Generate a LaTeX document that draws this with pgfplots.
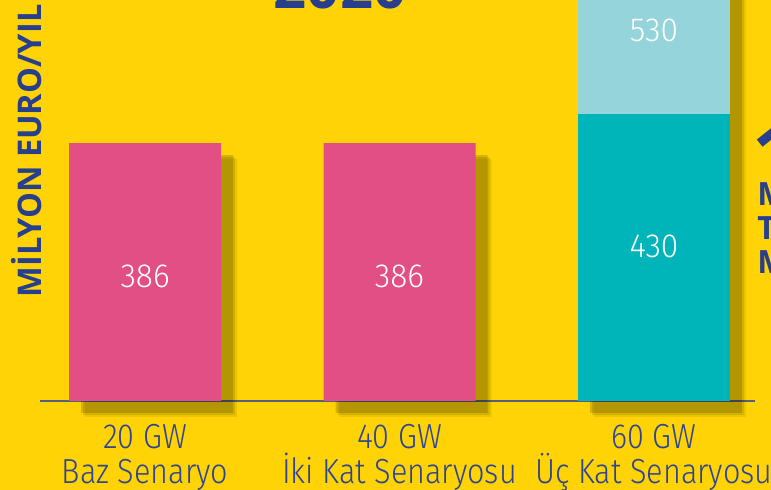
\documentclass[border=0pt]{standalone}
\usepackage{pgfplots}
\pgfplotsset{compat=1.18}
\usepackage{fontspec}
\setmainfont{Carlito}
\newfontfamily\lab[FakeStretch=0.88]{Fira Sans Light}
\newfontfamily\numf[FakeStretch=0.95]{Fira Sans Light}
\newfontfamily\bld{Open Sans}
\usetikzlibrary{shadows}
\definecolor{bg}{HTML}{FFD305}
\definecolor{barpink}{HTML}{E14F84}
\definecolor{barteal}{HTML}{00B5BA}
\definecolor{barlight}{HTML}{94D4DA}
\definecolor{navy}{HTML}{283F8E}
\definecolor{navytick}{HTML}{2E4595}
\definecolor{axisline}{HTML}{55607A}
\tikzset{sh/.style={
  drop shadow={shadow xshift=8pt, shadow yshift=-8pt, fill=black, opacity=0.07},
  drop shadow={shadow xshift=7pt, shadow yshift=-7pt, fill=black, opacity=0.10},
  drop shadow={shadow xshift=6pt, shadow yshift=-6pt, fill=black, opacity=0.15}}}
\begin{document}
\begin{tikzpicture}
\useasboundingbox (0,0) rectangle (385.5pt,-245pt);
\clip (0,0) rectangle (385.5pt,-245pt);
\fill[bg] (0,0) rectangle (385.5pt,-245pt);
\begin{axis}[
  at={(20pt,-200.5pt)}, anchor=south west,
  scale only axis, width=357.5pt, height=200.5pt,
  xmin=-0.413, xmax=2.397, ymin=0, ymax=600.3,
  clip=false,
  axis x line*=bottom, axis y line=none,
  x axis line style={draw=axisline, line width=1pt},
  xtick={0,1,2},
  xticklabels={{20 GW\\Baz Senaryo},{40 GW\\İki Kat Senaryosu},{60 GW\\Üç Kat Senaryosu}},
  major tick length=0pt,
  xticklabel style={font=\lab\fontsize{17.4pt}{17.5pt}\selectfont, text=navytick, align=center, inner sep=0pt, anchor=north, yshift=-11.5pt},
  ytick=\empty,
  ybar, bar width=76pt,
]
% 20 GW and 40 GW scenarios
\addplot[fill=barpink, draw=none, bar shift=0pt, sh] coordinates {(0,386) (1,386)};
% 60 GW: total stacked bar 430 + 530 = 960 (light segment shows above teal)
\addplot[fill=barlight, draw=none, bar shift=0pt, sh] coordinates {(2,960)};
\addplot[fill=barteal, draw=none, bar shift=0pt] coordinates {(2,430)};
\node[font=\numf\fontsize{16.7}{17}\selectfont, text=white] at (axis cs:0,187) {386};
\node[font=\numf\fontsize{16.7}{17}\selectfont, text=white] at (axis cs:1,187) {386};
\node[font=\numf\fontsize{16.7}{17}\selectfont, text=white] at (axis cs:2,232) {430};
\node[font=\numf\fontsize{16.7}{17}\selectfont, text=white] at (axis cs:2,555) {530};
\end{axis}
\node[rotate=90, font=\bld\bfseries\fontsize{16.3pt}{16.3pt}\selectfont, text=navy, inner sep=0pt] at (13.5pt,-75.5pt) {MİLYON EURO/YIL};
\node[anchor=base, font=\bld\bfseries\fontsize{29pt}{29pt}\selectfont, text=navy, inner sep=0pt] at (170pt,-4.5pt) {2020};
\node[anchor=base west, font=\bld\bfseries\fontsize{40pt}{40pt}\selectfont, text=navy, inner sep=0pt] at (376pt,-91.5pt) {1};
\node[anchor=base west, font=\bld\bfseries\fontsize{16pt}{16pt}\selectfont, text=navy, inner sep=0pt] at (378.5pt,-103pt) {M};
\node[anchor=base west, font=\bld\bfseries\fontsize{16pt}{16pt}\selectfont, text=navy, inner sep=0pt] at (378.5pt,-120pt) {T};
\node[anchor=base west, font=\bld\bfseries\fontsize{16pt}{16pt}\selectfont, text=navy, inner sep=0pt] at (378.5pt,-137pt) {M};
\end{tikzpicture}
\end{document}
